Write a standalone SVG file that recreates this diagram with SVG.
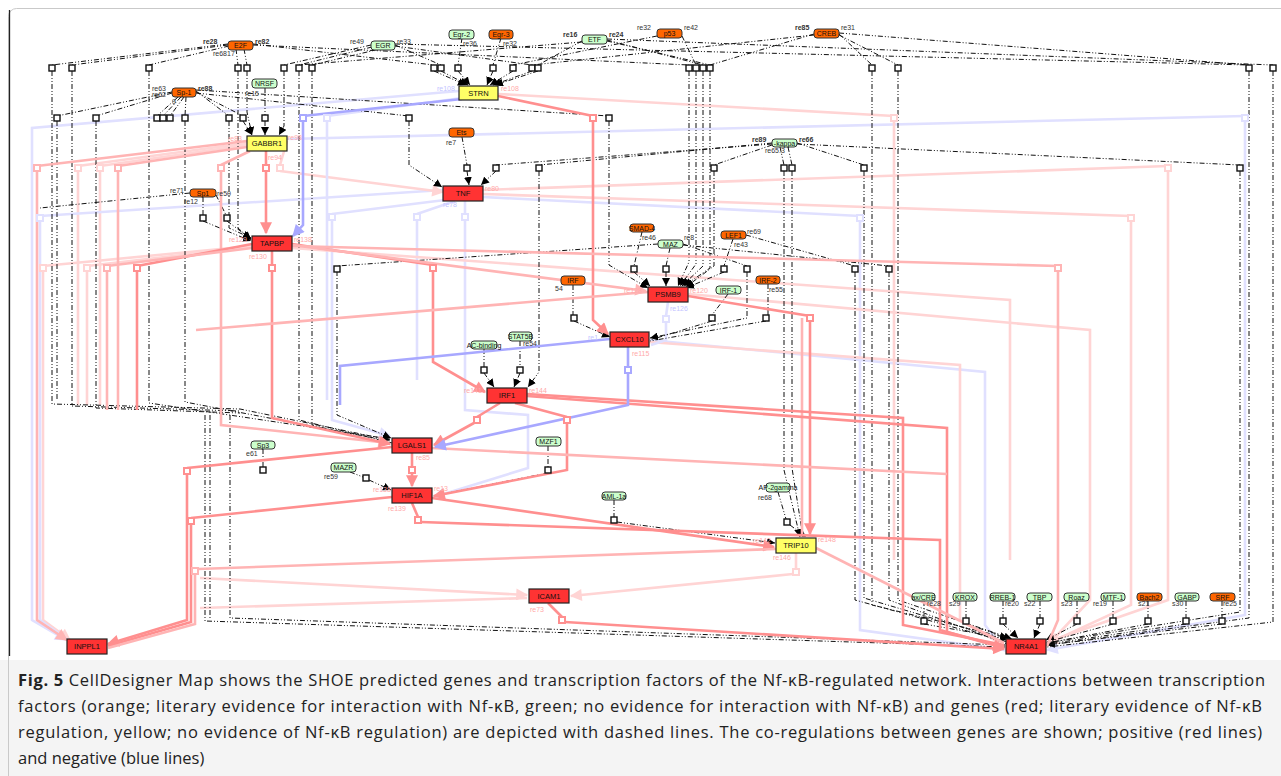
<svg xmlns="http://www.w3.org/2000/svg" width="1281" height="776" viewBox="0 0 1281 776">
<defs>
<style>
.tf{fill:none;stroke:#111;stroke-width:1;stroke-dasharray:5 2 1 2 1 2}
.sq{fill:#fff;stroke:#111;stroke-width:1.4}
.rs{fill:none;stroke:#ff8f8f;stroke-width:2.6}
.rm{fill:none;stroke:#ffb4b4;stroke-width:2.6}
.rl{fill:none;stroke:#ffd4d4;stroke-width:2.6}
.bs{fill:none;stroke:#a8a8ff;stroke-width:2.6}
.bl{fill:none;stroke:#e0e0ff;stroke-width:2.6}
.qrs{fill:#fff;stroke:#ff8f8f;stroke-width:2}
.qrm{fill:#fff;stroke:#ffb4b4;stroke-width:2}
.qrl{fill:#fff;stroke:#ffd4d4;stroke-width:2}
.qbs{fill:#fff;stroke:#a8a8ff;stroke-width:2}
.qbl{fill:#fff;stroke:#e0e0ff;stroke-width:2}
.o{fill:#ff6600;stroke:#333;stroke-width:1}
.g{fill:#ccffcc;stroke:#333;stroke-width:1}
.y{fill:#ffff66;stroke:#222;stroke-width:1.2}
.r{fill:#ff3333;stroke:#222;stroke-width:1.2}
.nt{font-family:"Liberation Sans",Arial,sans-serif;font-size:7px;text-anchor:middle;fill:#111}
.gt{font-family:"Liberation Sans",Arial,sans-serif;font-size:7.5px;text-anchor:middle;fill:#111}
.lb{font-family:"Liberation Sans",Arial,sans-serif;font-size:7px;fill:#333}
.lr{font-family:"Liberation Sans",Arial,sans-serif;font-size:7px;fill:#ffaaaa}
.lu{font-family:"Liberation Sans",Arial,sans-serif;font-size:7px;fill:#c4c4ff}
.cap{font-family:"Open Sans","Noto Sans","Liberation Sans",sans-serif;font-size:16.5px;fill:#222}
</style>
<marker id="ab" viewBox="0 0 10 10" refX="10" refY="5" markerWidth="8" markerHeight="8" markerUnits="userSpaceOnUse" orient="auto"><path d="M0,0L10,5L0,10z" fill="#000"/></marker>
<marker id="ars" viewBox="0 0 10 10" refX="9" refY="5" markerWidth="13" markerHeight="12" markerUnits="userSpaceOnUse" orient="auto"><path d="M0,0L10,5L0,10z" fill="#ff8f8f"/></marker>
<marker id="arm" viewBox="0 0 10 10" refX="9" refY="5" markerWidth="13" markerHeight="12" markerUnits="userSpaceOnUse" orient="auto"><path d="M0,0L10,5L0,10z" fill="#ffb4b4"/></marker>
<marker id="arl" viewBox="0 0 10 10" refX="9" refY="5" markerWidth="13" markerHeight="12" markerUnits="userSpaceOnUse" orient="auto"><path d="M0,0L10,5L0,10z" fill="#ffd4d4"/></marker>
<marker id="abs" viewBox="0 0 10 10" refX="9" refY="5" markerWidth="13" markerHeight="12" markerUnits="userSpaceOnUse" orient="auto"><path d="M0,0L10,5L0,10z" fill="#a8a8ff"/></marker>
<marker id="abl" viewBox="0 0 10 10" refX="9" refY="5" markerWidth="13" markerHeight="12" markerUnits="userSpaceOnUse" orient="auto"><path d="M0,0L10,5L0,10z" fill="#e0e0ff"/></marker>
</defs>

<rect x="0" y="0" width="1281" height="776" fill="#fff"/>
<rect x="0" y="660" width="1281" height="116" fill="#f4f4f4"/>
<rect x="8.5" y="8.5" width="1300" height="820" rx="8" fill="none" stroke="#c9c9c9"/>
<line x1="9.5" y1="10" x2="9.5" y2="656" stroke="#222" stroke-width="1.3"/>

<g id="connectors">
<g id="light-lines">
<path class="bl" d="M459,91 L32,128 V620 L66,640" marker-end="url(#abl)"/>
<path class="rl" d="M247,143 L78,166"/><path class="rl" d="M78,171 V405"/>
<path class="rl" d="M247,145 L100,166"/><path class="rl" d="M100,171 V405"/>
<path class="rl" d="M252,246 L43,266"/><path class="rl" d="M43,271 V620 L70,640" marker-end="url(#arl)"/>
<path class="rl" d="M252,247 L87,266"/><path class="rl" d="M87,271 V405"/>
<path class="bl" d="M443,190 L40,216"/><path class="bl" d="M40,221 V620 L68,640"/>
<path class="bl" d="M287,139 L1245,116"/><path class="bl" d="M1245,121 V615 L1047,650" marker-end="url(#abl)"/>
<path class="rl" d="M483,190 L1168,166"/><path class="rl" d="M1168,171 V600 L1047,642" marker-end="url(#arl)"/>
<path class="rl" d="M483,194 L1131,216"/><path class="rl" d="M1131,221 V605 L1047,644"/>
<path class="bl" d="M483,197 L860,216"/><path class="bl" d="M860,221 V630 L1005,650"/>
<path class="bl" d="M649,340 L985,372 V625 L1005,651" marker-end="url(#abl)"/>
<path class="rl" d="M649,342 L960,365 V620 L1005,646"/>
<path class="rl" d="M287,141 L280,165"/><path class="rl" d="M280,171 L443,192" marker-end="url(#arl)"/>
<path class="bl" d="M327,121 V400"/><path class="bl" d="M462,98 L327,116"/>
<path class="bl" d="M465,201 V214"/><path class="bl" d="M465,220 V410 L528,415 V468 L434,497" marker-end="url(#abl)"/>
<path class="bl" d="M455,201 L417,214"/><path class="bl" d="M417,220 V380"/>
<path class="bl" d="M445,200 L332,214"/><path class="bl" d="M332,220 V420 L390,436" marker-end="url(#abl)"/>
<path class="bl" d="M668,302 L666,316"/><path class="bl" d="M666,322 V340 L651,345"/>
<path class="rl" d="M796,553 V569"/><path class="rl" d="M793,574 L571,596" marker-end="url(#arl)"/>
<path class="rl" d="M200,578 L527,595" marker-end="url(#arl)"/>
<path class="rl" d="M200,608 L527,598"/>
<path class="rl" d="M688,294 L1090,330 V600 L1047,646"/>
<path class="rl" d="M498,94 L894,116"/><path class="rl" d="M894,121 V560"/>
<path class="rl" d="M292,248 L1010,300 V560"/>
</g>

<g id="tf-lines">
<path class="tf" d="M228,44 L52,65"/><path class="tf" d="M228,45 L72,65"/><path class="tf" d="M229,46 L149,65"/>
<path class="tf" d="M236,49 L238,65"/><path class="tf" d="M244,49 L247,65"/>
<path class="tf" d="M253,44 L434,65"/><path class="tf" d="M253,45 L689,65"/>
<path class="tf" d="M371,45 L284,65"/><path class="tf" d="M372,47 L299,65"/><path class="tf" d="M380,49 L312,65"/>
<path class="tf" d="M395,45 L441,65"/><path class="tf" d="M395,46 L532,65"/><path class="tf" d="M395,44 L1249,65"/>
<path class="tf" d="M462,38 L458,65"/><path class="tf" d="M501,38 L493,65"/>
<path class="tf" d="M582,41 L538,65"/><path class="tf" d="M582,42 L299,65"/>
<path class="tf" d="M607,40 L703,65"/><path class="tf" d="M607,41 L710,65"/><path class="tf" d="M607,39 L1273,65"/>
<path class="tf" d="M657,36 L513,65"/><path class="tf" d="M682,36 L696,65"/>
<path class="tf" d="M814,34 L710,65"/><path class="tf" d="M814,35 L532,65"/>
<path class="tf" d="M839,34 L872,65"/><path class="tf" d="M839,35 L898,65"/><path class="tf" d="M839,33 L1249,65"/>

<path class="tf" d="M52,71 V404 L240,409 L390,440" marker-end="url(#ab)"/>
<path class="tf" d="M72,71 V406 L240,411"/>
<path class="tf" d="M96,121 V408 L240,413"/>
<path class="tf" d="M149,71 V403 L390,439"/>
<path class="tf" d="M185,121 V402 L390,441"/>
<path class="tf" d="M238,71 V228 L251,240" marker-end="url(#ab)"/>
<path class="tf" d="M229,121 V228 L251,238" marker-end="url(#ab)"/>
<path class="tf" d="M247,71 V112 L252,135" marker-end="url(#ab)"/>
<path class="tf" d="M243,121 L252,135" marker-end="url(#ab)"/>
<path class="tf" d="M265,121 V135" marker-end="url(#ab)"/>
<path class="tf" d="M284,71 V126 L279,135" marker-end="url(#ab)"/>
<path class="tf" d="M299,71 V420 L392,443"/>
<path class="tf" d="M312,71 V425 L392,445"/>
<path class="tf" d="M434,71 L466,85" marker-end="url(#ab)"/>
<path class="tf" d="M441,71 L468,85" marker-end="url(#ab)"/>
<path class="tf" d="M458,71 L470,85" marker-end="url(#ab)"/>
<path class="tf" d="M493,71 L487,85" marker-end="url(#ab)"/>
<path class="tf" d="M513,71 L490,85" marker-end="url(#ab)"/>
<path class="tf" d="M532,71 L493,85" marker-end="url(#ab)"/>
<path class="tf" d="M538,71 L495,85" marker-end="url(#ab)"/>
<path class="tf" d="M689,71 V262 L678,286" marker-end="url(#ab)"/>
<path class="tf" d="M696,71 V264 L680,286" marker-end="url(#ab)"/>
<path class="tf" d="M703,71 V266 L682,286" marker-end="url(#ab)"/>
<path class="tf" d="M710,71 V268 L684,286" marker-end="url(#ab)"/>
<path class="tf" d="M872,71 V605 L1008,638" marker-end="url(#ab)"/>
<path class="tf" d="M898,71 V600 L1010,638"/>
<path class="tf" d="M1249,71 V618 L1047,645" marker-end="url(#ab)"/>
<path class="tf" d="M1273,71 V622 L1047,647"/>

<path class="tf" d="M172,92 L57,116"/><path class="tf" d="M172,93 L96,116"/>
<path class="tf" d="M178,97 L157,116"/><path class="tf" d="M181,97 L163,116"/><path class="tf" d="M184,97 L170,116"/><path class="tf" d="M186,97 L185,116"/>
<path class="tf" d="M196,91 L229,116"/><path class="tf" d="M196,92 L243,116"/><path class="tf" d="M196,93 L409,116"/><path class="tf" d="M196,90 L609,116"/>
<path class="tf" d="M57,121 V400"/>
<path class="tf" d="M409,121 V165 L442,187" marker-end="url(#ab)"/>
<path class="tf" d="M609,121 V265 L648,288" marker-end="url(#ab)"/>
<path class="tf" d="M265,88 V115"/>
<path class="tf" d="M462,137 L467,165"/><path class="tf" d="M467,171 L469,185" marker-end="url(#ab)"/>

<path class="tf" d="M772,143 L539,165"/><path class="tf" d="M772,144 L496,165"/><path class="tf" d="M772,145 L714,165"/>
<path class="tf" d="M780,147 L784,165"/><path class="tf" d="M788,147 L792,165"/>
<path class="tf" d="M797,143 L864,165"/><path class="tf" d="M797,144 L1240,165"/>
<path class="tf" d="M496,171 L481,185" marker-end="url(#ab)"/>
<path class="tf" d="M539,171 V372 L528,387" marker-end="url(#ab)"/>
<path class="tf" d="M714,171 V266 L686,287" marker-end="url(#ab)"/>
<path class="tf" d="M784,171 V470 L800,537" marker-end="url(#ab)"/>
<path class="tf" d="M792,171 V468 L803,537"/>
<path class="tf" d="M864,171 V598 L1006,640"/>
<path class="tf" d="M1240,171 V612 L1046,643"/>

<path class="tf" d="M190,193 L40,208"/>
<path class="tf" d="M203,197 V215"/><path class="tf" d="M203,221 L251,241" marker-end="url(#ab)"/>
<path class="tf" d="M216,195 L226,215"/><path class="tf" d="M227,221 L251,239" marker-end="url(#ab)"/>

<path class="tf" d="M642,232 L634,266"/><path class="tf" d="M634,272 L650,286" marker-end="url(#ab)"/>
<path class="tf" d="M670,248 L666,266"/><path class="tf" d="M666,272 V286" marker-end="url(#ab)"/>
<path class="tf" d="M658,244 L337,266"/><path class="tf" d="M337,271 V415 L391,438" marker-end="url(#ab)"/>
<path class="tf" d="M683,244 L747,266"/><path class="tf" d="M747,272 V318 L650,338" marker-end="url(#ab)"/>
<path class="tf" d="M733,239 L724,266"/><path class="tf" d="M724,272 L686,288" marker-end="url(#ab)"/>
<path class="tf" d="M746,235 L855,266"/><path class="tf" d="M855,272 V600 L1007,642"/>
<path class="tf" d="M683,245 L889,266"/><path class="tf" d="M889,272 V600 L1007,644"/>
<path class="tf" d="M573,285 V315"/><path class="tf" d="M574,321 L610,337" marker-end="url(#ab)"/>
<path class="tf" d="M728,294 L712,315"/><path class="tf" d="M712,321 L650,340"/>
<path class="tf" d="M768,284 V315"/><path class="tf" d="M766,321 L650,341"/>
<path class="tf" d="M520,341 V367"/><path class="tf" d="M520,373 L514,387" marker-end="url(#ab)"/>
<path class="tf" d="M484,349 V367"/><path class="tf" d="M484,373 L494,387" marker-end="url(#ab)"/>
<path class="tf" d="M548,446 V467"/><path class="tf" d="M548,473 L433,496"/>
<path class="tf" d="M263,449 V467"/>
<path class="tf" d="M350,472 L363,477"/><path class="tf" d="M369,480 L391,490" marker-end="url(#ab)"/>
<path class="tf" d="M614,500 V517"/><path class="tf" d="M617,522 L775,543" marker-end="url(#ab)"/>
<path class="tf" d="M778,492 L786,519"/><path class="tf" d="M790,525 L806,537" marker-end="url(#ab)"/>

<path class="tf" d="M205,415 V621 L1005,647" marker-end="url(#ab)"/>
<path class="tf" d="M210,415 V619"/>
<path class="tf" d="M230,415 V618 L1005,645"/>

<path class="tf" d="M924,601 V618"/><path class="tf" d="M924,624 L1009,639" marker-end="url(#ab)"/>
<path class="tf" d="M966,601 V618"/><path class="tf" d="M966,624 L1012,639" marker-end="url(#ab)"/>
<path class="tf" d="M1003,601 V618"/><path class="tf" d="M1003,624 L1018,638" marker-end="url(#ab)"/>
<path class="tf" d="M1040,601 V618"/><path class="tf" d="M1040,624 L1034,638" marker-end="url(#ab)"/>
<path class="tf" d="M1077,601 V618"/><path class="tf" d="M1077,624 L1046,640" marker-end="url(#ab)"/>
<path class="tf" d="M1113,601 V618"/><path class="tf" d="M1113,624 L1047,642"/>
<path class="tf" d="M1148,601 V618"/><path class="tf" d="M1148,624 L1047,643"/>
<path class="tf" d="M1186,601 V618"/><path class="tf" d="M1186,624 L1047,644"/>
<path class="tf" d="M1222,601 V618"/><path class="tf" d="M1222,624 L1047,645"/>
</g>

<g id="strong-lines">
<path class="rs" d="M498,96 L593,116"/><path class="rs" d="M593,121 V320 L608,334" marker-end="url(#ars)"/>
<path class="rs" d="M266,151 V165"/><path class="rs" d="M266,171 V233" marker-end="url(#ars)"/>
<path class="rm" d="M250,151 L221,165"/><path class="rm" d="M221,171 V425 L389,443" marker-end="url(#arm)"/>
<path class="rs" d="M272,251 V265"/><path class="rs" d="M272,271 V418 L390,444" marker-end="url(#ars)"/>
<path class="rs" d="M500,403 L477,417"/><path class="rs" d="M474,423 L434,445" marker-end="url(#ars)"/>
<path class="rs" d="M515,403 L567,417"/><path class="rs" d="M567,423 V470 L434,496" marker-end="url(#ars)"/>
<path class="rs" d="M412,453 V467"/><path class="rs" d="M412,473 V486" marker-end="url(#ars)"/>
<path class="rs" d="M412,503 L418,517"/><path class="rs" d="M421,522 L940,540 V630 L1004,648" marker-end="url(#ars)"/>
<path class="rs" d="M292,244 L433,265"/><path class="rs" d="M433,271 V362 L485,392" marker-end="url(#ars)"/>
<path class="rs" d="M688,296 L810,316"/><path class="rs" d="M810,321 V534" marker-end="url(#ars)"/>
<path class="rm" d="M802,318 V534"/>
<path class="rs" d="M527,394 L903,418 V625 L1004,645"/>
<path class="rs" d="M527,396 L947,428 V632 L1004,647"/>
<path class="rm" d="M432,448 L947,474"/>
<path class="rs" d="M432,498 L774,547" marker-end="url(#ars)"/>
<path class="rm" d="M292,245 L646,291" marker-end="url(#arm)"/>
<path class="rm" d="M648,292 L196,330"/>
<path class="bs" d="M628,347 V367"/><path class="bs" d="M628,373 V405 L435,447" marker-end="url(#abs)"/>
<path class="bs" d="M462,99 L303,116"/><path class="bs" d="M303,121 V225 L293,236" marker-end="url(#abs)"/>
<path class="bs" d="M610,339 L340,366 V405"/>
<path class="rm" d="M247,141 L37,166"/><path class="rm" d="M37,171 V620 L67,640" marker-end="url(#arm)"/>
<path class="rm" d="M247,147 L118,166"/><path class="rm" d="M118,171 V410"/>
<path class="rs" d="M252,244 L137,266"/><path class="rs" d="M137,271 V410"/>
<path class="rm" d="M252,248 L107,266"/><path class="rm" d="M107,271 V410"/>
<path class="rs" d="M392,447 L187,468"/><path class="rs" d="M187,474 V620 L108,644" marker-end="url(#ars)"/>
<path class="rs" d="M392,497 L191,518"/><path class="rs" d="M191,524 V622 L108,646"/>
<path class="rm" d="M776,549 L198,569"/><path class="rm" d="M195,574 V624 L108,648"/>
<path class="rs" d="M548,603 L562,617"/><path class="rs" d="M565,622 L1004,649" marker-end="url(#ars)"/>
<path class="rm" d="M816,548 L1004,643"/>
<path class="rm" d="M1058,271 V620 L1047,646"/><path class="rm" d="M292,246 L1058,266"/>
</g>

<g id="squares">
<g class="sq">
<rect x="49" y="65" width="6" height="6"/><rect x="69" y="65" width="6" height="6"/><rect x="146" y="65" width="6" height="6"/>
<rect x="235" y="65" width="6" height="6"/><rect x="244" y="65" width="6" height="6"/><rect x="281" y="65" width="6" height="6"/>
<rect x="296" y="65" width="6" height="6"/><rect x="309" y="65" width="6" height="6"/><rect x="431" y="65" width="6" height="6"/>
<rect x="438" y="65" width="6" height="6"/><rect x="455" y="65" width="6" height="6"/><rect x="490" y="65" width="6" height="6"/>
<rect x="510" y="65" width="6" height="6"/><rect x="529" y="65" width="6" height="6"/><rect x="535" y="65" width="6" height="6"/>
<rect x="686" y="65" width="6" height="6"/><rect x="693" y="65" width="6" height="6"/><rect x="700" y="65" width="6" height="6"/>
<rect x="707" y="65" width="6" height="6"/><rect x="869" y="65" width="6" height="6"/><rect x="895" y="65" width="6" height="6"/>
<rect x="1246" y="65" width="6" height="6"/><rect x="1270" y="65" width="6" height="6"/>
<rect x="54" y="115" width="6" height="6"/><rect x="93" y="115" width="6" height="6"/><rect x="154" y="115" width="6" height="6"/>
<rect x="160" y="115" width="6" height="6"/><rect x="167" y="115" width="6" height="6"/><rect x="182" y="115" width="6" height="6"/>
<rect x="226" y="115" width="6" height="6"/><rect x="240" y="115" width="6" height="6"/><rect x="262" y="115" width="6" height="6"/>
<rect x="406" y="115" width="6" height="6"/><rect x="606" y="115" width="6" height="6"/>
<rect x="464" y="165" width="6" height="6"/><rect x="493" y="165" width="6" height="6"/><rect x="536" y="165" width="6" height="6"/>
<rect x="711" y="165" width="6" height="6"/><rect x="781" y="165" width="6" height="6"/><rect x="789" y="165" width="6" height="6"/>
<rect x="861" y="165" width="6" height="6"/><rect x="1237" y="165" width="6" height="6"/>
<rect x="200" y="215" width="6" height="6"/><rect x="224" y="215" width="6" height="6"/>
<rect x="631" y="266" width="6" height="6"/><rect x="663" y="266" width="6" height="6"/><rect x="334" y="266" width="6" height="6"/>
<rect x="744" y="266" width="6" height="6"/><rect x="721" y="266" width="6" height="6"/><rect x="852" y="266" width="6" height="6"/>
<rect x="886" y="266" width="6" height="6"/>
<rect x="571" y="315" width="6" height="6"/><rect x="709" y="315" width="6" height="6"/><rect x="763" y="315" width="6" height="6"/>
<rect x="517" y="367" width="6" height="6"/><rect x="481" y="367" width="6" height="6"/>
<rect x="545" y="467" width="6" height="6"/><rect x="260" y="467" width="6" height="6"/><rect x="363" y="475" width="6" height="6"/>
<rect x="611" y="517" width="6" height="6"/><rect x="784" y="519" width="6" height="6"/>
<rect x="921" y="618" width="6" height="6"/><rect x="963" y="618" width="6" height="6"/><rect x="1000" y="618" width="6" height="6"/>
<rect x="1037" y="618" width="6" height="6"/><rect x="1074" y="618" width="6" height="6"/><rect x="1110" y="618" width="6" height="6"/>
<rect x="1145" y="618" width="6" height="6"/><rect x="1183" y="618" width="6" height="6"/><rect x="1219" y="618" width="6" height="6"/>
</g>
<g class="qrs">
<rect x="590" y="115" width="6" height="6"/><rect x="263" y="165" width="6" height="6"/><rect x="269" y="265" width="6" height="6"/>
<rect x="474" y="417" width="6" height="6"/><rect x="564" y="417" width="6" height="6"/><rect x="409" y="467" width="6" height="6"/>
<rect x="415" y="517" width="6" height="6"/><rect x="430" y="265" width="6" height="6"/><rect x="807" y="315" width="6" height="6"/>
<rect x="134" y="265" width="6" height="6"/><rect x="184" y="468" width="6" height="6"/><rect x="188" y="518" width="6" height="6"/>
<rect x="559" y="617" width="6" height="6"/>
</g>
<g class="qrm">
<rect x="218" y="165" width="6" height="6"/><rect x="34" y="165" width="6" height="6"/><rect x="115" y="165" width="6" height="6"/>
<rect x="104" y="265" width="6" height="6"/><rect x="192" y="568" width="6" height="6"/><rect x="1055" y="265" width="6" height="6"/>
</g>
<g class="qrl">
<rect x="277" y="165" width="6" height="6"/><rect x="75" y="165" width="6" height="6"/><rect x="97" y="165" width="6" height="6"/>
<rect x="40" y="265" width="6" height="6"/><rect x="84" y="265" width="6" height="6"/><rect x="1165" y="165" width="6" height="6"/>
<rect x="1128" y="215" width="6" height="6"/><rect x="891" y="115" width="6" height="6"/><rect x="793" y="569" width="6" height="6"/>
</g>
<g class="qbs">
<rect x="300" y="115" width="6" height="6"/><rect x="625" y="367" width="6" height="6"/>
</g>
<g class="qbl">
<rect x="324" y="115" width="6" height="6"/><rect x="37" y="215" width="6" height="6"/><rect x="1242" y="115" width="6" height="6"/>
<rect x="857" y="215" width="6" height="6"/><rect x="462" y="214" width="6" height="6"/><rect x="414" y="214" width="6" height="6"/>
<rect x="329" y="214" width="6" height="6"/><rect x="663" y="316" width="6" height="6"/>
</g>
</g>
</g>

<g id="reaction-labels">
<text class="lb" x="203" y="44" font-weight="bold">re28</text><text class="lb" x="255" y="44" font-weight="bold">re82</text><text class="lb" x="213" y="56">re6817</text>
<text class="lb" x="350" y="44">re49</text><text class="lb" x="397" y="44">re33</text>
<text class="lb" x="463" y="46">re36</text><text class="lb" x="503" y="46">re32</text>
<text class="lb" x="563" y="37" font-weight="bold">re16</text><text class="lb" x="609" y="37" font-weight="bold">re24</text>
<text class="lb" x="637" y="30">re32</text><text class="lb" x="684" y="30">re42</text>
<text class="lb" x="795" y="30" font-weight="bold">re85</text><text class="lb" x="841" y="30">re31</text>
<text class="lb" x="245" y="96">re15</text>
<text class="lb" x="152" y="91">re63</text><text class="lb" x="152" y="97">re62</text><text class="lb" x="198" y="91" font-weight="bold">re88</text><text class="lb" x="172" y="104">9</text>
<text class="lb" x="446" y="145">re7</text>
<text class="lb" x="170" y="193">re71</text><text class="lb" x="184" y="204">re12</text><text class="lb" x="217" y="196">re50</text>
<text class="lb" x="752" y="142" font-weight="bold">re89</text><text class="lb" x="799" y="142" font-weight="bold">re66</text><text class="lb" x="765" y="153">re65.3</text>
<text class="lb" x="642" y="240">re46</text><text class="lb" x="684" y="240">re8</text>
<text class="lb" x="747" y="234">re69</text><text class="lb" x="734" y="247">re43</text>
<text class="lb" x="555" y="291">54</text><text class="lb" x="769" y="292">re55</text>
<text class="lb" x="523" y="346">re54</text>
<text class="lb" x="246" y="456">e61</text><text class="lb" x="324" y="479">re59</text>
<text class="lb" x="758" y="500">re68</text>
<text class="lb" x="927" y="606">re28</text><text class="lb" x="949" y="606">s29</text><text class="lb" x="1005" y="606">re20</text>
<text class="lb" x="1024" y="606">s22</text><text class="lb" x="1061" y="606">s23</text><text class="lb" x="1093" y="606">re19</text>
<text class="lb" x="1138" y="606">s21</text><text class="lb" x="1172" y="606">s30</text><text class="lb" x="1223" y="606">re25</text>

<text class="lu" x="437" y="91">re108</text><text class="lr" x="501" y="91">re108</text>
<text class="lr" x="228" y="141">re83</text><text class="lr" x="288" y="140">re98</text><text class="lr" x="268" y="160">re94</text>
<text class="lr" x="485" y="191">re80</text><text class="lu" x="443" y="207">re78</text>
<text class="lr" x="229" y="242">re129</text><text class="lr" x="294" y="242">re138</text><text class="lr" x="249" y="259">re130</text>
<text class="lr" x="624" y="293">re128</text><text class="lr" x="690" y="293">re120</text><text class="lu" x="670" y="311">re126</text>
<text class="lu" x="588" y="340">re1</text><text class="lr" x="632" y="356">re115</text>
<text class="lr" x="464" y="393">re141</text><text class="lr" x="529" y="393">re144</text>
<text class="lr" x="416" y="460">re85</text>
<text class="lr" x="373" y="492">re138</text><text class="lr" x="434" y="491">re13</text><text class="lr" x="388" y="511">re139</text>
<text class="lr" x="753" y="543">re142</text><text class="lr" x="818" y="542">re148</text><text class="lr" x="773" y="560">re146</text>
<text class="lr" x="530" y="612">re73</text>
</g>

<g id="n-E2F"><rect class="o" x="228" y="41" width="25" height="9" rx="3"/><text class="nt" x="240.5" y="48">E2F</text></g>
<g id="n-EGR"><rect class="g" x="371" y="41" width="24" height="9" rx="3"/><text class="nt" x="383" y="48">EGR</text></g>
<g id="n-Egr2"><rect class="g" x="449" y="30" width="25" height="9" rx="3"/><text class="nt" x="461.5" y="37">Egr-2</text></g>
<g id="n-Egr3"><rect class="o" x="489" y="30" width="24" height="9" rx="3"/><text class="nt" x="501" y="37">Egr-3</text></g>
<g id="n-ETF"><rect class="g" x="582" y="35" width="25" height="9" rx="3"/><text class="nt" x="594.5" y="42">ETF</text></g>
<g id="n-p53"><rect class="o" x="657" y="29" width="25" height="9" rx="3"/><text class="nt" x="669.5" y="36">p53</text></g>
<g id="n-CREB"><rect class="o" x="814" y="29" width="25" height="9" rx="3"/><text class="nt" x="826.5" y="36">CREB</text></g>
<g id="n-NRSF"><rect class="g" x="252" y="79" width="25" height="9" rx="3"/><text class="nt" x="264.5" y="86">NRSF</text></g>
<g id="n-Sp-1"><rect class="o" x="172" y="88" width="24" height="9" rx="3"/><text class="nt" x="184" y="95">Sp-1</text></g>
<g id="n-Ets"><rect class="o" x="449" y="128" width="25" height="9" rx="3"/><text class="nt" x="461.5" y="135">Ets</text></g>
<g id="n-Sp1"><rect class="o" x="190" y="189" width="26" height="8" rx="3"/><text class="nt" x="203" y="195.5">Sp1</text></g>
<g id="n-NFkB"><rect class="g" x="772" y="139" width="25" height="8" rx="3"/><text class="nt" x="784.5" y="145.5">-kappa</text></g>
<g id="n-SMAD4"><rect class="o" x="630" y="224" width="24" height="8" rx="3"/><text class="nt" x="642" y="230.5">SMAD-4</text></g>
<g id="n-MAZ"><rect class="g" x="658" y="240" width="25" height="8" rx="3"/><text class="nt" x="670.5" y="246.5">MAZ</text></g>
<g id="n-LEF1"><rect class="o" x="721" y="231" width="25" height="8" rx="3"/><text class="nt" x="733.5" y="237.5">LEF1</text></g>
<g id="n-IRF"><rect class="o" x="561" y="276" width="24" height="9" rx="3"/><text class="nt" x="573" y="283">IRF</text></g>
<g id="n-IRF-1"><rect class="g" x="716" y="286" width="25" height="8" rx="3"/><text class="nt" x="728.5" y="292.5">IRF-1</text></g>
<g id="n-IRF-2"><rect class="o" x="756" y="276" width="24" height="8" rx="3"/><text class="nt" x="768" y="282.5">IRF-2</text></g>
<g id="n-STAT5B"><rect class="g" x="509" y="332" width="23" height="9" rx="3"/><text class="nt" x="520.5" y="339">STAT5B</text></g>
<g id="n-Cbinding"><rect class="g" x="471" y="341" width="26" height="8" rx="3"/><text class="nt" x="484" y="347.5">AC-binding</text></g>
<g id="n-MZF1"><rect class="g" x="536" y="437" width="25" height="9" rx="3"/><text class="nt" x="548.5" y="444">MZF1</text></g>
<g id="n-Sp3"><rect class="g" x="251" y="441" width="24" height="8" rx="3"/><text class="nt" x="263" y="447.5">Sp3</text></g>
<g id="n-MAZR"><rect class="g" x="331" y="463" width="25" height="9" rx="3"/><text class="nt" x="343.5" y="470">MAZR</text></g>
<g id="n-AML1a"><rect class="g" x="602" y="492" width="24" height="8" rx="3"/><text class="nt" x="614" y="498.5">AML-1a</text></g>
<g id="n-AP2g"><rect class="g" x="766" y="483" width="24" height="9" rx="3"/><text class="nt" x="778" y="490">AP-2gamma</text></g>
<g id="n-TaxCREB"><rect class="g" x="912" y="593" width="23" height="8" rx="3"/><text class="nt" x="923.5" y="599.5">ax/CRE</text></g>
<g id="n-KROX"><rect class="g" x="953" y="593" width="24" height="8" rx="3"/><text class="nt" x="965" y="599.5">KROX</text></g>
<g id="n-RREB1"><rect class="g" x="990" y="593" width="25" height="8" rx="3"/><text class="nt" x="1002.5" y="599.5">RREB-1</text></g>
<g id="n-TBP"><rect class="g" x="1027" y="593" width="25" height="8" rx="3"/><text class="nt" x="1039.5" y="599.5">TBP</text></g>
<g id="n-Roaz"><rect class="g" x="1064" y="593" width="25" height="8" rx="3"/><text class="nt" x="1076.5" y="599.5">Roaz</text></g>
<g id="n-MTF1"><rect class="g" x="1101" y="593" width="24" height="8" rx="3"/><text class="nt" x="1113" y="599.5">MTF-1</text></g>
<g id="n-Bach2"><rect class="o" x="1137" y="593" width="25" height="8" rx="3"/><text class="nt" x="1149.5" y="599.5">Bach2</text></g>
<g id="n-GABP"><rect class="g" x="1175" y="593" width="24" height="8" rx="3"/><text class="nt" x="1187" y="599.5">GABP</text></g>
<g id="n-SRF"><rect class="o" x="1210" y="593" width="25" height="8" rx="3"/><text class="nt" x="1222.5" y="599.5">SRF</text></g>

<g id="n-STRN"><rect class="y" x="459" y="86" width="39" height="14"/><text class="gt" x="478.5" y="95.5">STRN</text></g>
<g id="n-GABBR1"><rect class="y" x="247" y="136" width="40" height="15"/><text class="gt" x="267" y="146">GABBR1</text></g>
<g id="n-TNF"><rect class="r" x="443" y="186" width="40" height="15"/><text class="gt" x="463" y="196">TNF</text></g>
<g id="n-TAPBP"><rect class="r" x="252" y="236" width="40" height="15"/><text class="gt" x="272" y="246">TAPBP</text></g>
<g id="n-PSMB9"><rect class="r" x="648" y="287" width="40" height="15"/><text class="gt" x="668" y="297">PSMB9</text></g>
<g id="n-CXCL10"><rect class="r" x="610" y="332" width="39" height="15"/><text class="gt" x="629.5" y="342">CXCL10</text></g>
<g id="n-IRF1"><rect class="r" x="487" y="388" width="40" height="15"/><text class="gt" x="507" y="398">IRF1</text></g>
<g id="n-LGALS1"><rect class="r" x="392" y="438" width="40" height="15"/><text class="gt" x="412" y="448">LGALS1</text></g>
<g id="n-HIF1A"><rect class="r" x="392" y="488" width="40" height="15"/><text class="gt" x="412" y="498">HIF1A</text></g>
<g id="n-TRIP10"><rect class="y" x="776" y="538" width="40" height="15"/><text class="gt" x="796" y="548">TRIP10</text></g>
<g id="n-ICAM1"><rect class="r" x="529" y="589" width="40" height="14"/><text class="gt" x="549" y="598.5">ICAM1</text></g>
<g id="n-INPPL1"><rect class="r" x="67" y="639" width="40" height="15"/><text class="gt" x="87" y="649">INPPL1</text></g>
<g id="n-NR4A1"><rect class="r" x="1006" y="639" width="40" height="15"/><text class="gt" x="1026" y="649">NR4A1</text></g>

<g id="caption">
<text class="cap" x="18" y="686" textLength="1247" lengthAdjust="spacing"><tspan font-weight="bold">Fig. 5</tspan> CellDesigner Map shows the SHOE predicted genes and transcription factors of the Nf-κB-regulated network. Interactions between transcription</text>
<text class="cap" x="18" y="712" textLength="1244" lengthAdjust="spacing">factors (orange; literary evidence for interaction with Nf-κB, green; no evidence for interaction with Nf-κB) and genes (red; literary evidence of Nf-κB</text>
<text class="cap" x="18" y="738" textLength="1244" lengthAdjust="spacing">regulation, yellow; no evidence of Nf-κB regulation) are depicted with dashed lines. The co-regulations between genes are shown; positive (red lines)</text>
<text class="cap" x="18" y="764">and negative (blue lines)</text>
</g>
</svg>
